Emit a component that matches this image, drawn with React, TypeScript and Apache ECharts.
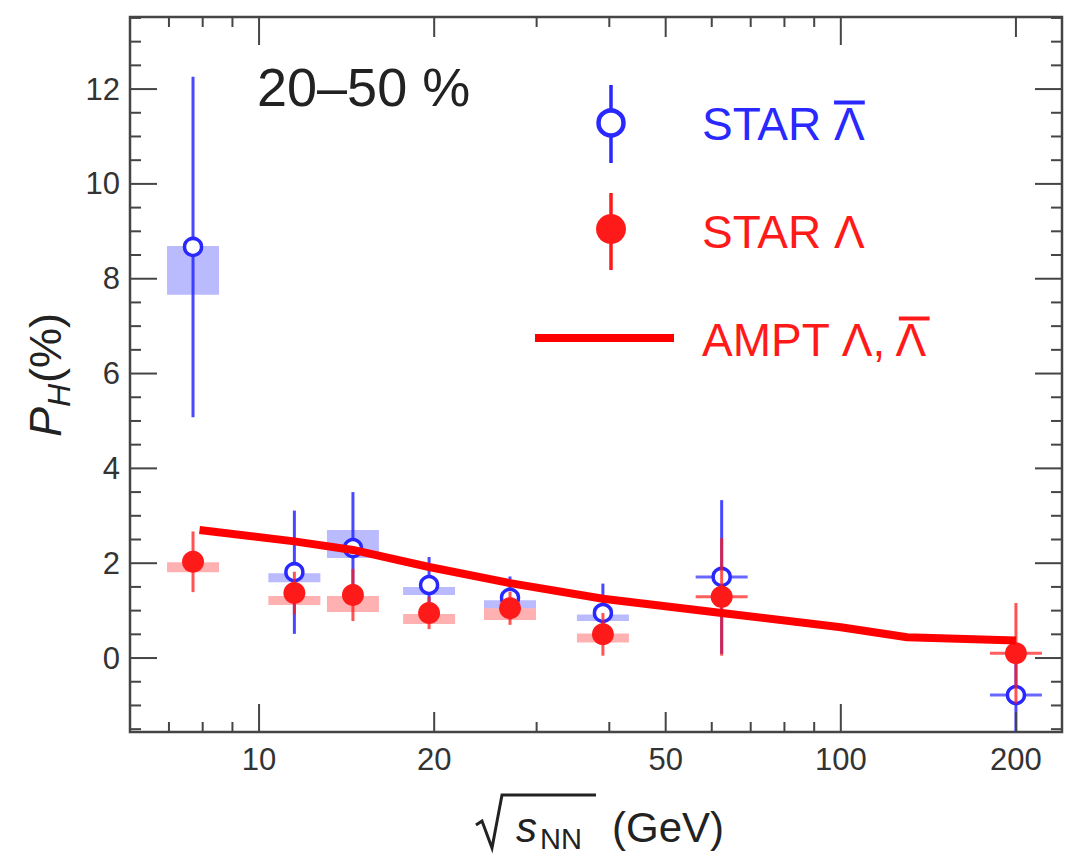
import React, { useEffect, useRef } from "react";
import * as echarts from "echarts";

// ---------------- data ----------------
const energies = [7.7, 11.5, 14.5, 19.6, 27, 39, 62.4, 200];

const antiLambdaP = [8.67, 1.81, 2.32, 1.54, 1.27, 0.95, 1.71, -0.78];
const antiLambdaStat = [3.59, 1.3, 1.18, 0.59, 0.45, 0.62, 1.62, 1.0];
const antiLambdaSysLow = [7.66, 1.6, 2.11, 1.33, 1.05, 0.78, 1.71, -0.78];
const antiLambdaSysHigh = [8.69, 1.79, 2.7, 1.5, 1.22, 0.92, 1.71, -0.78];

const lambdaP = [2.03, 1.37, 1.33, 0.95, 1.05, 0.5, 1.29, 0.1];
const lambdaStat = [0.64, 0.45, 0.55, 0.34, 0.35, 0.45, 1.24, 1.06];
const lambdaSysLow = [1.81, 1.12, 0.97, 0.72, 0.8, 0.33, 1.29, 0.1];
const lambdaSysHigh = [2.02, 1.31, 1.31, 0.93, 1.05, 0.52, 1.29, 0.1];

const amptEnergies = [7.9, 11.5, 14.5, 19.6, 27, 39, 62.4, 100, 130, 200];
const amptP = [2.7, 2.46, 2.28, 1.92, 1.58, 1.25, 0.95, 0.65, 0.44, 0.37];

const X_MIN = 6;
const X_MAX = 240;
const Y_MIN = -1.56;
const Y_MAX = 13.52;

const xLabelValues = [10, 20, 50, 100, 200];
const xTickLabels = ["10", "20", "50", "100", "200"];
const xMajorTicks = [10, 100];
const xMidTicks = [20, 50, 200];
const xMinorTicks = [7, 8, 9, 30, 40, 60, 70, 80, 90];

const yLabelValues = [0, 2, 4, 6, 8, 10, 12];
const yTickLabels = ["0", "2", "4", "6", "8", "10", "12"];
const yMinorTicks = [
  -1.5, -1, -0.5, 0.5, 1, 1.5, 2.5, 3, 3.5, 4.5, 5, 5.5, 6.5, 7, 7.5, 8.5, 9,
  9.5, 10.5, 11, 11.5, 12.5, 13, 13.5,
];

// ---------------- styles ----------------
const FONT = "Liberation Sans";
const BLUE = "#2828ff";
const RED = "#ff1a1a";
const AXIS = "#454545";
const TICK_TEXT = "#333333";

function textWidth(text: string, font: string): number {
  const ctx = document.createElement("canvas").getContext("2d");
  if (!ctx) return text.length * 20;
  ctx.font = font;
  return ctx.measureText(text).width;
}

function buildOption() {
  const boxData = (lo: number[], hi: number[]) =>
    energies.map((e, i) => [e, lo[i], hi[i]]);
  const errData = (p: number[], s: number[]) =>
    energies.map((e, i) => [e, p[i], p[i] - s[i], p[i] + s[i]]);

  const boxSeries = (data: number[][], fill: string, lineColor: string) => ({
    type: "custom",
    z: 2,
    clip: true,
    silent: true,
    data,
    encode: { x: 0, y: 1 },
    renderItem: (_p: any, api: any) => {
      const x = api.value(0);
      const a = api.coord([x, api.value(1)]);
      const b = api.coord([x, api.value(2)]);
      const h = a[1] - b[1];
      if (h < 3) {
        return {
          type: "line",
          shape: { x1: a[0] - 26, y1: a[1], x2: a[0] + 26, y2: a[1] },
          style: { stroke: lineColor, lineWidth: 3, opacity: 0.7 },
        };
      }
      return {
        type: "rect",
        shape: { x: a[0] - 26, y: b[1], width: 52, height: h },
        style: { fill },
      };
    },
  });

  const errSeries = (
    data: number[][],
    color: string,
    opacity: number,
    open: boolean,
    z: number
  ) => ({
    type: "custom",
    z,
    clip: true,
    silent: true,
    data,
    encode: { x: 0, y: 1 },
    renderItem: (_p: any, api: any) => {
      const x = api.value(0);
      const c = api.coord([x, api.value(1)]);
      const lo = api.coord([x, api.value(2)]);
      const hi = api.coord([x, api.value(3)]);
      return {
        type: "group",
        children: [
          {
            type: "line",
            shape: { x1: c[0], y1: hi[1], x2: c[0], y2: lo[1] },
            style: { stroke: color, lineWidth: 3, opacity },
          },
          open
            ? {
                type: "circle",
                shape: { cx: c[0], cy: c[1], r: 8.5 },
                style: { fill: "#ffffff", stroke: color, lineWidth: 3.5 },
              }
            : {
                type: "circle",
                shape: { cx: c[0], cy: c[1], r: 11 },
                style: { fill: color },
              },
        ],
      };
    },
  });

  const xTickData = [
    ...xMajorTicks.map((v) => [v, Y_MIN, 28]),
    ...xMidTicks.map((v) => [v, Y_MIN, 20]),
    ...xMinorTicks.map((v) => [v, Y_MIN, 10]),
  ];
  const yTickData = [
    ...yLabelValues.map((v) => [X_MIN, v, 27]),
    ...yMinorTicks.map((v) => [X_MIN, v, 11]),
  ];

  const tickStyle = { stroke: AXIS, lineWidth: 2 };

  const xTickSeries = {
    type: "custom",
    z: 6,
    clip: false,
    silent: true,
    data: xTickData,
    encode: { x: 0, y: 1 },
    renderItem: (_p: any, api: any) => {
      const v = api.value(0);
      const len = api.value(2);
      const b = api.coord([v, Y_MIN]);
      const t = api.coord([v, Y_MAX]);
      return {
        type: "group",
        children: [
          { type: "line", shape: { x1: b[0], y1: b[1], x2: b[0], y2: b[1] - len }, style: tickStyle },
          { type: "line", shape: { x1: t[0], y1: t[1], x2: t[0], y2: t[1] + len }, style: tickStyle },
        ],
      };
    },
  };

  const yTickSeries = {
    type: "custom",
    z: 6,
    clip: false,
    silent: true,
    data: yTickData,
    encode: { x: 0, y: 1 },
    renderItem: (_p: any, api: any) => {
      const v = api.value(1);
      const len = api.value(2);
      const l = api.coord([X_MIN, v]);
      const r = api.coord([X_MAX, v]);
      return {
        type: "group",
        children: [
          { type: "line", shape: { x1: l[0], y1: l[1], x2: l[0] + len, y2: l[1] }, style: tickStyle },
          { type: "line", shape: { x1: r[0], y1: r[1], x2: r[0] - len, y2: r[1] }, style: tickStyle },
        ],
      };
    },
  };

  const xLabelSeries = {
    type: "custom",
    z: 6,
    clip: false,
    silent: true,
    data: xLabelValues.map((v) => [v, Y_MIN]),
    encode: { x: 0, y: 1 },
    renderItem: (p: any, api: any) => {
      const b = api.coord([api.value(0), Y_MIN]);
      return {
        type: "text",
        x: b[0],
        y: b[1] + 27,
        style: {
          text: xTickLabels[p.dataIndex],
          fontFamily: FONT,
          fontSize: 31,
          fill: TICK_TEXT,
          align: "center",
          verticalAlign: "middle",
        },
      };
    },
  };

  const yLabelSeries = {
    type: "custom",
    z: 6,
    clip: false,
    silent: true,
    data: yLabelValues.map((v) => [X_MIN, v]),
    encode: { x: 0, y: 1 },
    renderItem: (p: any, api: any) => {
      const l = api.coord([X_MIN, api.value(1)]);
      return {
        type: "text",
        x: l[0] - 10,
        y: l[1],
        style: {
          text: yTickLabels[p.dataIndex],
          fontFamily: FONT,
          fontSize: 31,
          fill: TICK_TEXT,
          align: "right",
          verticalAlign: "middle",
        },
      };
    },
  };

  const amptSeries = {
    type: "line",
    z: 5,
    silent: true,
    showSymbol: false,
    symbol: "none",
    data: amptEnergies.map((e, i) => [e, amptP[i]]),
    lineStyle: { color: "#ff0000", width: 8, cap: "butt", join: "round" },
  };

  // legend / annotation texts
  const LEG_FS = 46;
  const legFont = `${LEG_FS}px "${FONT}"`;
  const legX = 702;
  const wLam = textWidth("\u039B", legFont);
  const bar1X = legX + textWidth("STAR ", legFont);
  const bar3X = legX + textWidth("AMPT \u039B, ", legFont);

  const TFS = 45;
  const tFont = `italic ${TFS}px "${FONT}"`;
  const wP = textWidth("P", tFont);
  const wH = textWidth("H", `italic 32px "${FONT}"`);

  const graphic: any[] = [
    {
      type: "text",
      x: 257,
      y: 87,
      style: {
        text: "20\u201350 %",
        fontFamily: FONT,
        fontSize: 54,
        fill: "#222222",
        align: "left",
        verticalAlign: "middle",
      },
    },
    // legend 1: STAR anti-Lambda
    { type: "line", shape: { x1: 611, y1: 85, x2: 611, y2: 163 }, style: { stroke: BLUE, lineWidth: 3.5 } },
    { type: "circle", shape: { cx: 611, cy: 123, r: 12.5 }, style: { fill: "#fff", stroke: BLUE, lineWidth: 4.5 } },
    {
      type: "text",
      x: legX,
      y: 124,
      style: { text: "STAR \u039B", fontFamily: FONT, fontSize: LEG_FS, fill: BLUE, align: "left", verticalAlign: "middle" },
    },
    { type: "rect", shape: { x: bar1X, y: 100.5, width: wLam, height: 4 }, style: { fill: BLUE } },
    // legend 2: STAR Lambda
    { type: "line", shape: { x1: 611, y1: 193, x2: 611, y2: 270 }, style: { stroke: RED, lineWidth: 3.5 } },
    { type: "circle", shape: { cx: 611, cy: 229, r: 15 }, style: { fill: RED } },
    {
      type: "text",
      x: legX,
      y: 232,
      style: { text: "STAR \u039B", fontFamily: FONT, fontSize: LEG_FS, fill: RED, align: "left", verticalAlign: "middle" },
    },
    // legend 3: AMPT
    { type: "line", shape: { x1: 535, y1: 338, x2: 674, y2: 338 }, style: { stroke: "#ff0000", lineWidth: 8 } },
    {
      type: "text",
      x: legX,
      y: 340,
      style: { text: "AMPT \u039B, \u039B", fontFamily: FONT, fontSize: LEG_FS, fill: RED, align: "left", verticalAlign: "middle" },
    },
    { type: "rect", shape: { x: bar3X, y: 316.5, width: wLam, height: 4 }, style: { fill: RED } },
    // y axis title
    {
      type: "group",
      x: 45,
      y: 437,
      rotation: Math.PI / 2,
      children: [
        {
          type: "text",
          x: 0,
          y: 0,
          style: { text: "P", fontFamily: FONT, fontStyle: "italic", fontSize: TFS, fill: "#222", align: "left", verticalAlign: "middle" },
        },
        {
          type: "text",
          x: wP,
          y: 14,
          style: { text: "H", fontFamily: FONT, fontStyle: "italic", fontSize: 32, fill: "#222", align: "left", verticalAlign: "middle" },
        },
        {
          type: "text",
          x: wP + wH + 1,
          y: 0,
          style: { text: "(%)", fontFamily: FONT, fontSize: TFS, fill: "#222", align: "left", verticalAlign: "middle" },
        },
      ],
    },
    // x axis title: sqrt(s_NN) (GeV)
    {
      type: "polyline",
      shape: { points: [[476, 825], [482, 821], [492, 848], [502, 795], [596, 795]] },
      style: { stroke: "#222", lineWidth: 3, fill: null },
    },
    {
      type: "text",
      x: 516,
      y: 827,
      style: { text: "s", fontFamily: FONT, fontStyle: "italic", fontSize: 42, fill: "#222", align: "left", verticalAlign: "middle" },
    },
    {
      type: "text",
      x: 540,
      y: 839,
      style: { text: "NN", fontFamily: FONT, fontSize: 29, fill: "#222", align: "left", verticalAlign: "middle" },
    },
    {
      type: "text",
      x: 612,
      y: 827,
      style: { text: "(GeV)", fontFamily: FONT, fontSize: 42, fill: "#222", align: "left", verticalAlign: "middle" },
    },
  ];

  return {
    animation: false,
    backgroundColor: "#ffffff",
    textStyle: { fontFamily: FONT },
    grid: {
      left: 130,
      right: 15,
      top: 17,
      bottom: 124,
      show: true,
      borderColor: AXIS,
      borderWidth: 2.5,
      backgroundColor: "transparent",
    },
    xAxis: {
      type: "log",
      logBase: 10,
      min: X_MIN,
      max: X_MAX,
      axisLine: { show: false },
      axisTick: { show: false },
      axisLabel: { show: false },
      splitLine: { show: false },
    },
    yAxis: {
      type: "value",
      min: Y_MIN,
      max: Y_MAX,
      axisLine: { show: false },
      axisTick: { show: false },
      axisLabel: { show: false },
      splitLine: { show: false },
    },
    series: [
      boxSeries(boxData(antiLambdaSysLow, antiLambdaSysHigh), "rgba(90,90,255,0.42)", BLUE),
      boxSeries(boxData(lambdaSysLow, lambdaSysHigh), "rgba(255,70,70,0.42)", RED),
      errSeries(errData(antiLambdaP, antiLambdaStat), BLUE, 0.85, true, 3),
      errSeries(errData(lambdaP, lambdaStat), RED, 0.75, false, 4),
      amptSeries,
      xTickSeries,
      yTickSeries,
      xLabelSeries,
      yLabelSeries,
    ],
    graphic,
  };
}

export default function App() {
  const ref = useRef<HTMLDivElement>(null);
  useEffect(() => {
    document.body.style.margin = "0";
    const chart = echarts.init(ref.current as HTMLDivElement, undefined, {
      renderer: "svg",
      width: 1077,
      height: 856,
    });
    chart.setOption(buildOption() as any);
    return () => {
      chart.dispose();
    };
  }, []);
  return (
    <div
      ref={ref}
      style={{ width: 1077, height: 856, position: "absolute", left: 0, top: 0 }}
    />
  );
}
